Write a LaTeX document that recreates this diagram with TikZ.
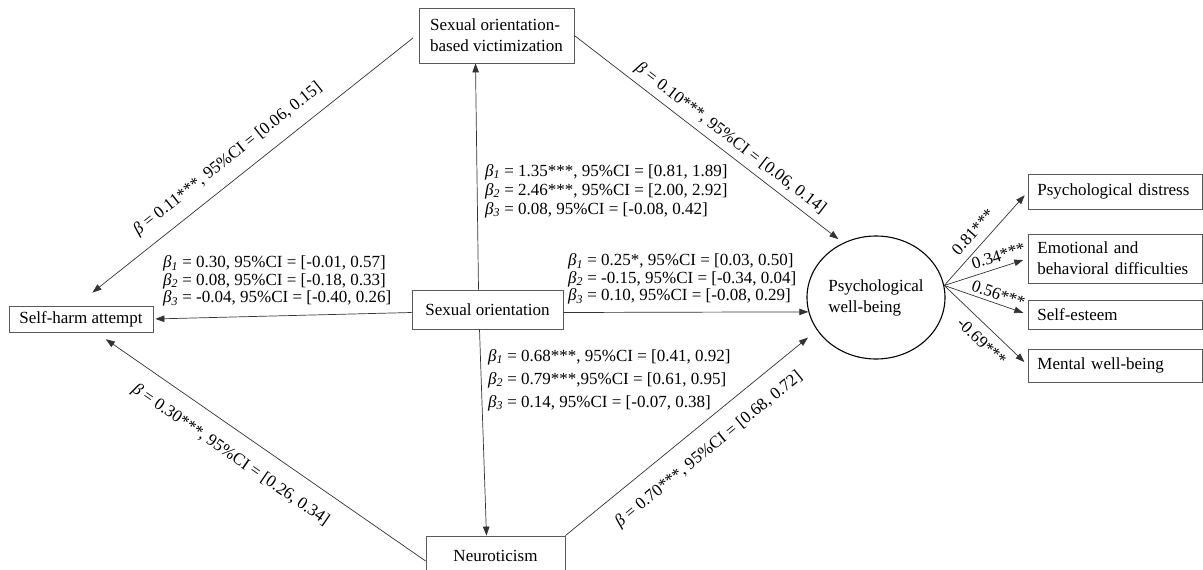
\documentclass[tikz,border=0pt]{standalone}
\usepackage{fontspec}
\setmainfont{Liberation Serif}
\usetikzlibrary{arrows.meta,positioning,shapes.geometric}
\newcommand{\bsub}[1]{\textit{β}\textsubscript{\textit{#1}}}

\begin{document}
\begin{tikzpicture}[x=1pt,y=-1pt,
  font=\fontsize{17}{21}\selectfont,
  box/.style={draw=black!65, line width=0.8pt, inner xsep=8pt, inner ysep=2pt},
  outbox/.style={box, anchor=west, text width=156pt, inner xsep=9pt, align=left},
  arr/.style={-{Triangle[length=9pt,width=6.5pt]}, draw=black!80, line width=0.7pt},
  lbl/.style={sloped, inner sep=0pt},
  coef/.style={anchor=west, align=left, inner sep=0pt}]
  \useasboundingbox (0,0) rectangle (1203,570);
  % Observed variables
  \node[box, minimum width=155pt, minimum height=55pt, align=left] (vict) at (496.5,35.5) {Sexual orientation-\\based victimization};
  \node[box, minimum width=144pt, minimum height=26pt] (harm) at (81,319) {Self-harm attempt};
  \node[box, minimum width=151pt, minimum height=39pt] (so) at (487.5,309.5) {Sexual orientation};
  \node[box, minimum width=139pt, minimum height=40pt] (neuro) at (495.5,556) {Neuroticism};
  % Latent variable
  \node[draw, ellipse, line width=1.1pt, minimum width=138pt, minimum height=123pt, inner sep=0pt, align=left] (pwb) at (876,297.5) {Psychological\\well-being};
  % Indicators
  \node[outbox, minimum height=35pt] (dist) at (1028,191.5) {Psychological distress};
  \node[outbox, minimum height=49pt] (emo) at (1028,258.5) {Emotional and\\behavioral difficulties};
  \node[outbox, minimum height=29pt] (est) at (1028,314.5) {Self-esteem};
  \node[outbox, minimum height=33pt] (mwb) at (1028,365.5) {Mental well-being};

  % Paths from sexual orientation
  \draw[arr] ([xshift=-9pt]so.north) -- ([xshift=-21pt]vict.south);
  \draw[arr] ([xshift=-8pt]so.south) -- ([xshift=-9pt]neuro.north);
  \draw[arr, shorten >=2pt] ([yshift=-3pt]so.west) -- (harm.east);
  \draw[arr] ([yshift=-3pt]so.east) -- (pwb.192);
  \node[coef, font=\fontsize{17}{19}\selectfont] (victcoef) at (485,191) {\bsub{1} = 1.35***, 95\%CI = [0.81, 1.89]\\\bsub{2} = 2.46***, 95\%CI = [2.00, 2.92]\\\bsub{3} = 0.08, 95\%CI = [-0.08, 0.42]};
  \node[coef, font=\fontsize{17}{17.5}\selectfont] (harmcoef) at (163,281) {\bsub{1} = 0.30, 95\%CI = [-0.01, 0.57]\\\bsub{2} = 0.08, 95\%CI = [-0.18, 0.33]\\\bsub{3} = -0.04, 95\%CI = [-0.40, 0.26]};
  \node[coef, font=\fontsize{17}{17.5}\selectfont] (pwbcoef) at (568,279) {\bsub{1} = 0.25*, 95\%CI = [0.03, 0.50]\\\bsub{2} = -0.15, 95\%CI = [-0.34, 0.04]\\\bsub{3} = 0.10, 95\%CI = [-0.08, 0.29]};
  \node[coef, font=\fontsize{17}{23}\selectfont] (neurocoef) at (488,380) {\bsub{1} = 0.68***, 95\%CI = [0.41, 0.92]\\\bsub{2} = 0.79***,95\%CI = [0.61, 0.95]\\\bsub{3} = 0.14, 95\%CI = [-0.07, 0.38]};

  % Paths from victimization and neuroticism
  \draw[arr, shorten <=7pt, shorten >=21pt] ([yshift=2pt]vict.west) -- node[lbl, above=12pt, pos=0.52] (vhlab) {\textit{β} = 0.11***, 95\%CI = [0.06, 0.15]} ([xshift=-5pt]harm.north);
  \draw[arr, shorten >=6pt] (vict.east) -- node[lbl, above=5.5pt, pos=0.55] (vplab) {\textit{β} = 0.10***, 95\%CI = [0.06, 0.14]} (pwb.121);
  \draw[arr, shorten >=12pt] ([yshift=-5pt]neuro.west) -- node[lbl, below=16pt, pos=0.55] (nhlab) {\textit{β} = 0.30***, 95\%CI = [0.26, 0.34]} ([xshift=15pt]harm.south);
  \draw[arr, shorten >=11.6pt] (neuro.north east) -- node[lbl, below=16pt, pos=0.51] (nplab) {\textit{β} = 0.70***, 95\%CI = [0.68, 0.72]} (pwb.209);

  % Loadings
  \draw[arr, shorten >=5pt] (pwb.10) -- node[lbl, above=8pt, pos=0.47] (l1) {0.81***} (dist.west);
  \draw[arr, shorten >=5pt] (pwb.10) -- node[lbl, above=5.5pt, pos=0.69] (l2) {0.34***} (emo.west);
  \draw[arr, shorten >=5pt] (pwb.10) -- node[lbl, above=3.5pt, pos=0.61] (l3) {0.56***} (est.west);
  \draw[arr, shorten >=5pt] (pwb.10) -- node[lbl, below=8.5pt, pos=0.57] (l4) {-0.69***} (mwb.west);
\end{tikzpicture}
\end{document}
